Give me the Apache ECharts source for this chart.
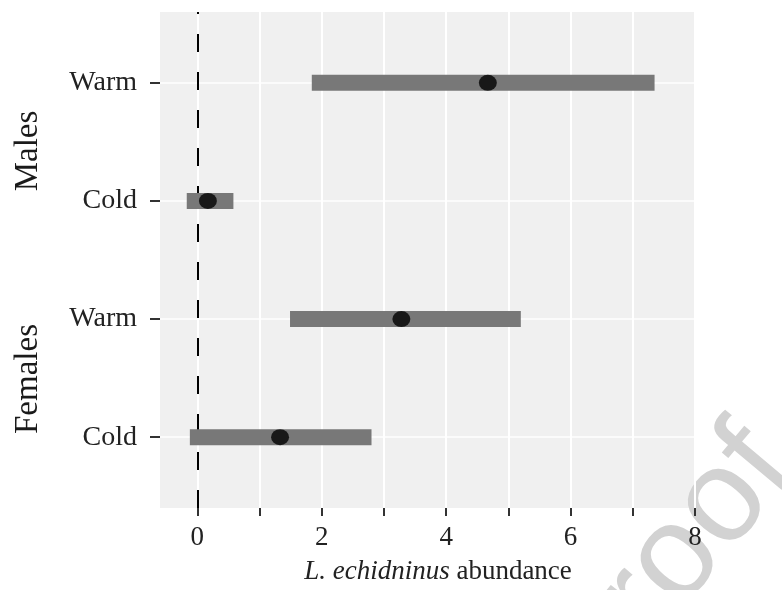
<!DOCTYPE html>
<html>
<head>
<meta charset="utf-8">
<script src="https://cdn.jsdelivr.net/npm/echarts@6/dist/echarts.min.js"></script>
<style>
html,body{margin:0;padding:0;background:#fff;}
#chart{width:782px;height:590px;}
</style>
</head>
<body>
<div id="chart"></div>
<script>
// ---- data ----
const categories = ['Cold', 'Warm', 'Cold', 'Warm'];          // y = 1..4 (bottom to top)
const groups = ['Females', 'Females', 'Males', 'Males'];
const lowValues  = [-0.12, 1.49, -0.17, 1.84];
const meanValues = [1.33, 3.28, 0.17, 4.67];
const highValues = [2.80, 5.20, 0.58, 7.35];
const xTickValues = [0, 1, 2, 3, 4, 5, 6, 7, 8];
const xLabelValues = [0, 2, 4, 6, 8];
const yTickValues = [1, 2, 3, 4];

const serif = 'Liberation Serif, DejaVu Serif, serif';
const chart = echarts.init(document.getElementById('chart'));

const intervalData = categories.map((c, i) => [lowValues[i], highValues[i], i + 1]);
const pointData = categories.map((c, i) => [meanValues[i], i + 1]);

const option = {
  animation: false,
  backgroundColor: '#ffffff',
  grid: { left: 160, right: 87, top: 12, bottom: 82, show: false },
  xAxis: {
    type: 'value', min: -0.6, max: 8, z: 3,
    axisLine: { show: false, onZero: false },
    axisTick: { show: true, length: 8, lineStyle: { color: '#333', width: 2 }, customValues: xTickValues },
    axisLabel: { customValues: xLabelValues, margin: 16, fontFamily: serif, fontSize: 27, color: '#222' },
    splitLine: { show: true, lineStyle: { color: '#ffffff', width: 2 } }
  },
  yAxis: {
    type: 'value', min: 0.4, max: 4.6, z: 3,
    axisLine: { show: false, onZero: false },
    axisTick: { show: true, length: 10, lineStyle: { color: '#333', width: 2 }, customValues: yTickValues },
    axisLabel: { customValues: yTickValues, margin: 23, fontFamily: serif, fontSize: 28, color: '#222',
      formatter: v => categories[Math.round(v) - 1] || '' },
    splitLine: { show: true, lineStyle: { color: '#ffffff', width: 1.5 } }
  },
  series: [
    {
      type: 'line', data: [], z: 1, silent: true,
      markArea: {
        silent: true, label: { show: false },
        itemStyle: { color: '#f0f0f0' },
        data: [[{ xAxis: 'min', yAxis: 'min' }, { xAxis: 'max', yAxis: 'max' }]]
      }
    },
    {
      type: 'line', data: [], z: 4, silent: true,
      markLine: {
        silent: true, symbol: 'none', label: { show: false },
        lineStyle: { color: '#000', width: 2, type: [18, 20] },
        data: [{ xAxis: 0 }]
      }
    },
    {
      type: 'custom', z: 5, silent: true,
      data: intervalData,
      renderItem: function (params, api) {
        const p1 = api.coord([api.value(0), api.value(2)]);
        const p2 = api.coord([api.value(1), api.value(2)]);
        const h = 16;
        return { type: 'rect', shape: { x: p1[0], y: p1[1] - h / 2, width: p2[0] - p1[0], height: h },
                 style: { fill: '#787878' } };
      }
    },
    {
      type: 'scatter', z: 6, silent: true,
      data: pointData,
      symbol: 'circle', symbolSize: [18, 16],
      itemStyle: { color: '#000' }
    }
  ],
  graphic: [
    { type: 'text', x: 28, y: 151, rotation: Math.PI / 2, z: 10,
      style: { text: 'Males', font: '33px ' + serif, fill: '#1a1a1a', align: 'center', verticalAlign: 'middle' } },
    { type: 'text', x: 28, y: 379, rotation: Math.PI / 2, z: 10,
      style: { text: 'Females', font: '33px ' + serif, fill: '#1a1a1a', align: 'center', verticalAlign: 'middle' } },
    { type: 'text', x: 438, y: 572, z: 10,
      style: { text: '{i|L. echidninus} abundance', font: '27px ' + serif, fill: '#222', align: 'center', verticalAlign: 'middle',
        rich: { i: { fontStyle: 'italic', fontFamily: serif, fontSize: 27, fill: '#222' } } } },
    { type: 'text', x: 567, y: 689, rotation: 50 * Math.PI / 180, z: 2, silent: true,
      style: { text: 'Proof', font: '132px Liberation Sans, Arial, sans-serif', fill: '#d2d2d2', align: 'left', verticalAlign: 'middle' } }
  ]
};
chart.setOption(option);
</script>
</body>
</html>
